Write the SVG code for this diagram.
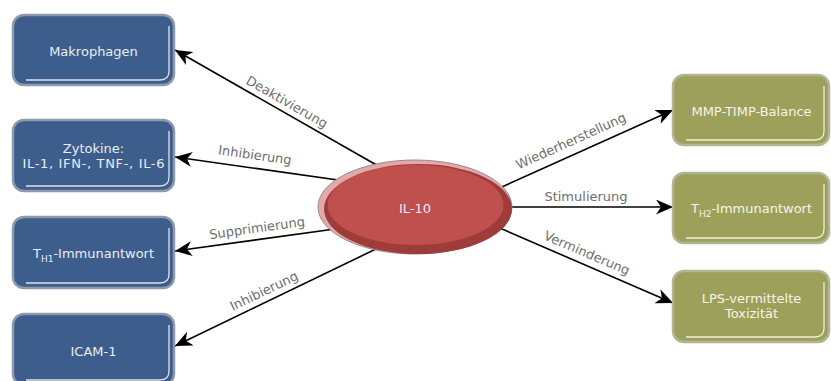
<svg xmlns="http://www.w3.org/2000/svg" width="831" height="381" viewBox="0 0 831 381">
  <style>
    .blue { fill: #3d5e8d; stroke: #8e99ab; stroke-width: 2.5; }
    .green { fill: #9da05b; stroke: #b3b592; stroke-width: 2.5; }
    .hl { fill: none; stroke: #dde2ea; stroke-width: 1.3; }
    .hlg { fill: none; stroke: #eef0dc; stroke-width: 1.3; }
    .nt { font-family: "DejaVu Sans", sans-serif; font-size: 13px; fill: #e8edf4; text-anchor: middle; }
    .ntg { font-family: "DejaVu Sans", sans-serif; font-size: 13px; fill: #f4f5e8; text-anchor: middle; }
    .lbl { font-family: "DejaVu Sans", sans-serif; font-size: 13px; fill: #6e6e6e; text-anchor: middle; }
    .edge { stroke: #000; stroke-width: 1.6; fill: none; marker-end: url(#arr); }
  </style>
  <defs>
    <marker id="arr" markerUnits="userSpaceOnUse" markerWidth="18" markerHeight="16" refX="17" refY="7.5" orient="auto">
      <path d="M0,0 L17,7.5 L0,15 L5,7.5 Z" fill="#000"/>
    </marker>
  </defs>

  <rect width="831" height="381" fill="#ffffff"/>

  <!-- connectors -->
  <g id="connectors">
    <line class="edge" x1="380" y1="167" x2="175" y2="50"/>
    <line class="edge" x1="345" y1="181" x2="175" y2="157"/>
    <line class="edge" x1="335" y1="229" x2="175" y2="251"/>
    <line class="edge" x1="378" y1="248" x2="175" y2="346"/>
    <line class="edge" x1="495" y1="190" x2="673" y2="110"/>
    <line class="edge" x1="505" y1="207" x2="673" y2="207"/>
    <line class="edge" x1="495" y1="226" x2="673" y2="303"/>

    <text class="lbl" transform="translate(287,102) rotate(29.8)" y="4.5">Deaktivierung</text>
    <text class="lbl" transform="translate(255,155) rotate(8)" y="4.5">Inhibierung</text>
    <text class="lbl" transform="translate(257,228) rotate(-8)" y="4.5">Supprimierung</text>
    <text class="lbl" transform="translate(264,291) rotate(-25.7)" y="4.5">Inhibierung</text>
    <text class="lbl" transform="translate(571,141) rotate(-24.2)" y="4.5">Wiederherstellung</text>
    <text class="lbl" x="586" y="200.5">Stimulierung</text>
    <text class="lbl" transform="translate(587,253) rotate(23.2)" y="4.5">Verminderung</text>
  </g>

  <!-- central node: bevelled disc -->
  <g id="il10">
    <ellipse cx="415" cy="207" rx="97" ry="47" fill="#e2a9a8" stroke="#9c8888" stroke-width="1"/>
    <ellipse cx="418" cy="209" rx="94" ry="45" fill="#9e3c3a"/>
    <ellipse cx="415.5" cy="205" rx="88" ry="40" fill="#c0504d"/>
    <text class="nt" x="415" y="213">IL-10</text>
  </g>

  <!-- left nodes -->
  <g id="makrophagen">
    <rect class="blue" x="13" y="15" width="161" height="70" rx="11"/>
    <path class="hl" d="M169,26 V71 Q169,80 160,80 H26"/>
    <text class="nt" x="93.5" y="56">Makrophagen</text>
  </g>
  <g id="zytokine">
    <rect class="blue" x="13" y="120" width="161" height="71" rx="11"/>
    <path class="hl" d="M169,131 V177 Q169,186 160,186 H26"/>
    <text class="nt" x="93.5" y="152.5">Zytokine:</text>
    <text class="nt" x="93.5" y="168" textLength="142" lengthAdjust="spacing">IL-1, IFN-, TNF-, IL-6</text>
  </g>
  <g id="th1">
    <rect class="blue" x="13" y="217" width="161" height="71" rx="11"/>
    <path class="hl" d="M169,228 V274 Q169,283 160,283 H26"/>
    <text class="nt" x="93.5" y="258">T<tspan font-size="9" dy="4">H1</tspan><tspan dy="-4">-Immunantwort</tspan></text>
  </g>
  <g id="icam1">
    <rect class="blue" x="13" y="314" width="161" height="71" rx="11"/>
    <path class="hl" d="M169,325 V371 Q169,380 160,380 H26"/>
    <text class="nt" x="93.5" y="356">ICAM-1</text>
  </g>

  <!-- right nodes -->
  <g id="mmp-timp">
    <rect class="green" x="673" y="75" width="156" height="70" rx="11"/>
    <path class="hlg" d="M824,86 V131 Q824,140 815,140 H686"/>
    <text class="ntg" x="751.5" y="115.5">MMP-TIMP-Balance</text>
  </g>
  <g id="th2">
    <rect class="green" x="673" y="173" width="156" height="70" rx="11"/>
    <path class="hlg" d="M824,184 V229 Q824,238 815,238 H686"/>
    <text class="ntg" x="751.5" y="213">T<tspan font-size="9" dy="4">H2</tspan><tspan dy="-4">-Immunantwort</tspan></text>
  </g>
  <g id="lps">
    <rect class="green" x="673" y="271" width="156" height="71" rx="11"/>
    <path class="hlg" d="M824,282 V328 Q824,337 815,337 H686"/>
    <text class="ntg" x="751.5" y="302.5">LPS-vermittelte</text>
    <text class="ntg" x="751.5" y="318">Toxizität</text>
  </g>
</svg>
